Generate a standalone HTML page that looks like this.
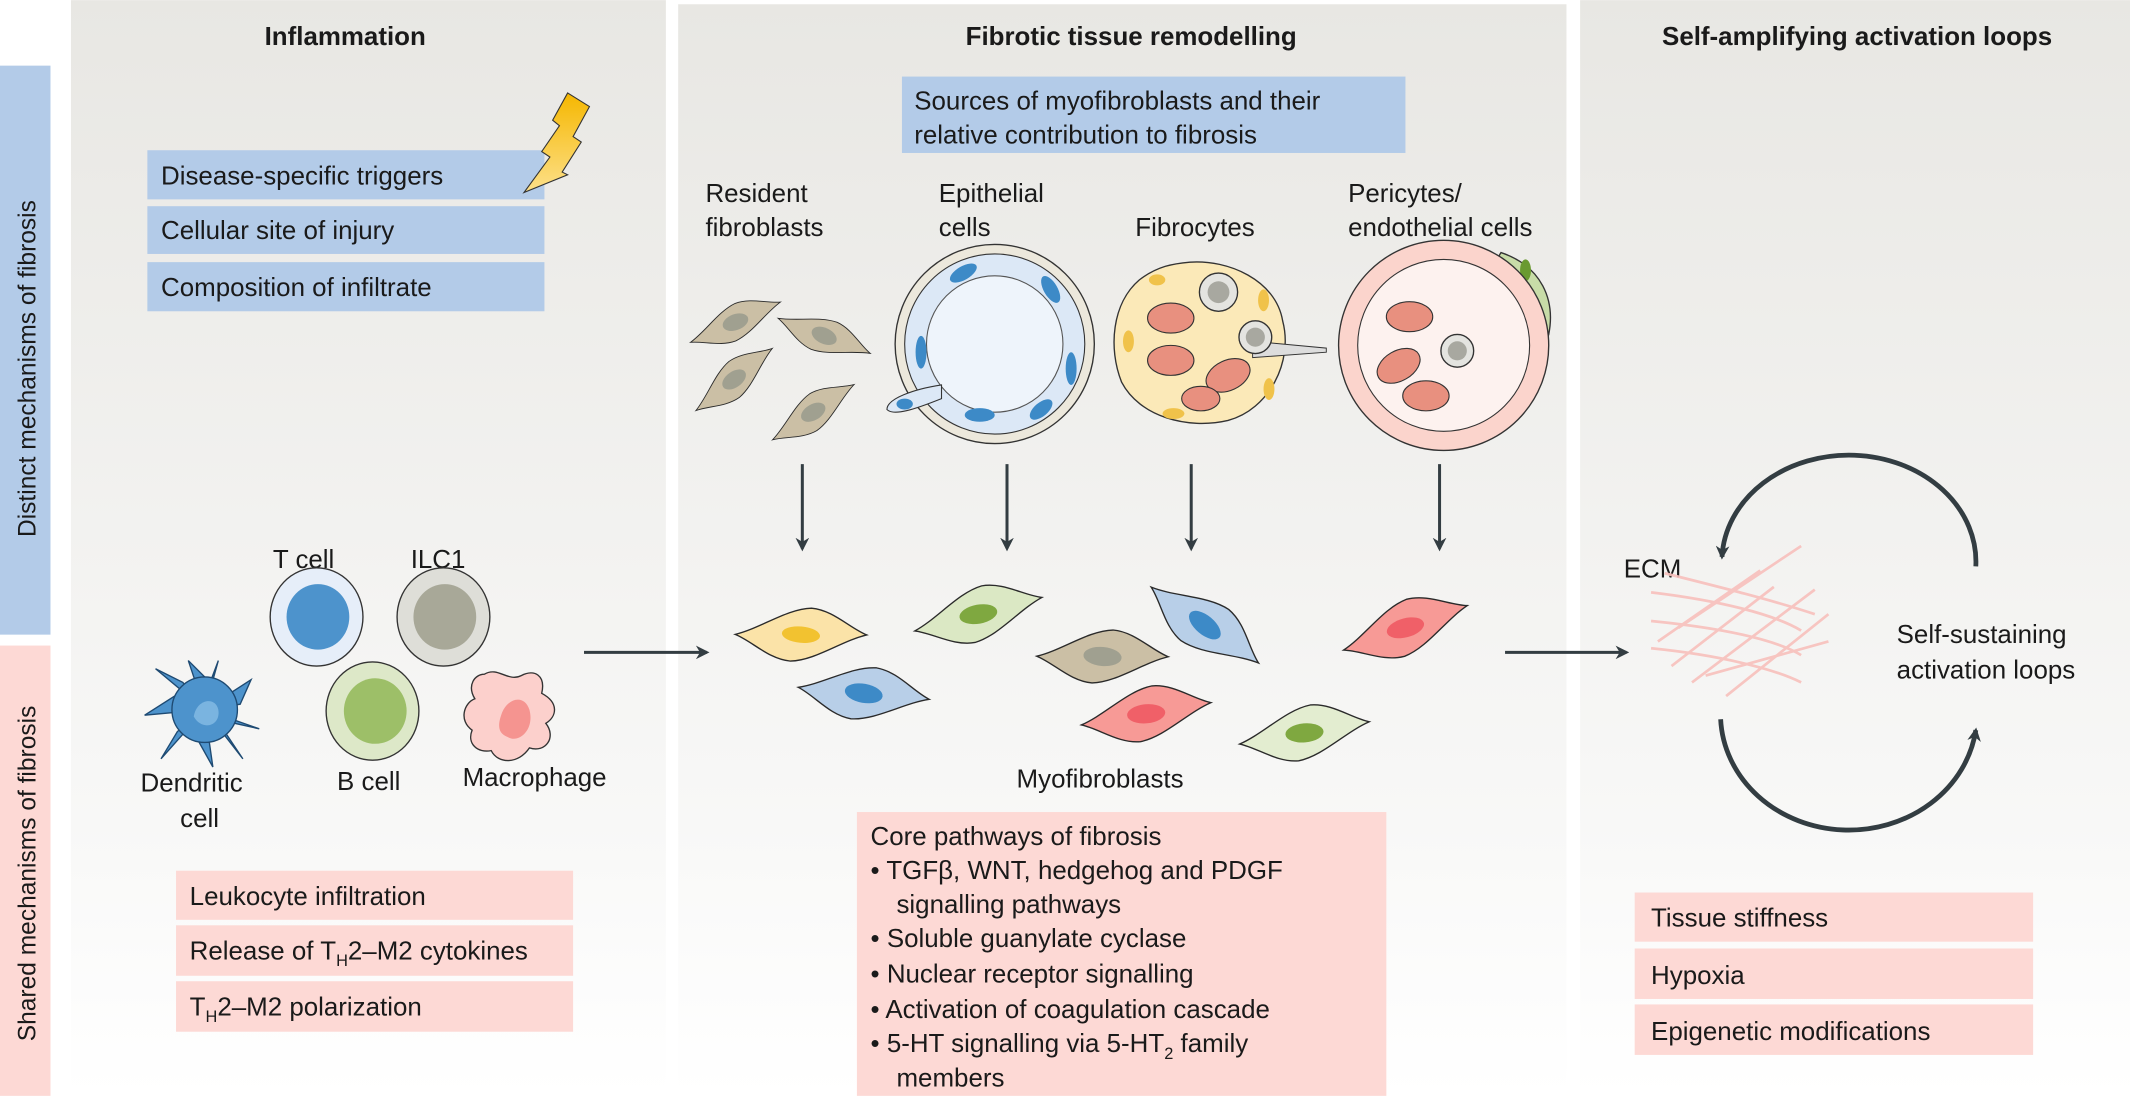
<!DOCTYPE html>
<html><head><meta charset="utf-8"><style>html,body{margin:0;padding:0;background:#fff;}svg{display:block;}text{font-family:"Liberation Sans",sans-serif;fill:#1a1a1a;}</style></head><body>
<svg width="2130" height="1096" viewBox="0 0 1561 803" xmlns="http://www.w3.org/2000/svg">
<defs>
<linearGradient id="pg" x1="0" y1="0" x2="0" y2="1"><stop offset="0" stop-color="#e8e7e3"/><stop offset="0.75" stop-color="#f8f8f7"/><stop offset="1" stop-color="#ffffff"/></linearGradient>
<linearGradient id="bolt" x1="0" y1="0" x2="0" y2="1"><stop offset="0" stop-color="#f5b700"/><stop offset="1" stop-color="#fde08a"/></linearGradient>
<marker id="ah" markerWidth="10" markerHeight="10" refX="8" refY="5" orient="auto" markerUnits="userSpaceOnUse"><path d="M0,0 L10,5 L0,10 L3,5Z" fill="#333d42"/></marker>
<path id="sp" d="M-48,4 C-30,-2 -12,-18 6,-20 C22,-20 35,-8 48,-4 C30,2 12,18 -6,20 C-22,20 -35,8 -48,4Z" stroke="#2a2a2a" stroke-width="1"/>
</defs>
<rect width="1561" height="803" fill="#fff"/>
<rect x="0" y="48" width="37" height="417" fill="#b3cbe8"/>
<rect x="0" y="473" width="37" height="330" fill="#fdd9d5"/>
<text transform="translate(26,270) rotate(-90)" text-anchor="middle" font-size="18">Distinct mechanisms of fibrosis</text>
<text transform="translate(26,640) rotate(-90)" text-anchor="middle" font-size="18">Shared mechanisms of fibrosis</text>
<rect x="52" y="0" width="436" height="803" fill="url(#pg)"/>
<rect x="497" y="3" width="651" height="800" fill="url(#pg)"/>
<rect x="1158" y="0" width="403" height="803" fill="url(#pg)"/>
<text x="253" y="33" text-anchor="middle" font-size="19" font-weight="bold">Inflammation</text>
<text x="829" y="33" text-anchor="middle" font-size="19" font-weight="bold">Fibrotic tissue remodelling</text>
<text x="1361" y="33" text-anchor="middle" font-size="19" font-weight="bold">Self-amplifying activation loops</text>
<g font-size="19">
<rect x="108" y="110" width="291" height="36" fill="#b3cbe8"/><text x="118" y="135">Disease-specific triggers</text>
<rect x="108" y="151" width="291" height="35" fill="#b3cbe8"/><text x="118" y="175">Cellular site of injury</text>
<rect x="108" y="192" width="291" height="36" fill="#b3cbe8"/><text x="118" y="217">Composition of infiltrate</text>
<rect x="661" y="56" width="369" height="56" fill="#b3cbe8"/><text x="670" y="80">Sources of myofibroblasts and their</text><text x="670" y="105">relative contribution to fibrosis</text>
</g>
<path d="M416,68 L432,78 L420,100 L426,104 L412,126 L416,128 L384,141 L403,115 L397,111 L410,92 L405,88Z" fill="url(#bolt)" stroke="#333" stroke-width="0.8"/>
<g font-size="19">
<text x="517" y="148">Resident</text><text x="517" y="173">fibroblasts</text>
<text x="688" y="148">Epithelial</text><text x="688" y="173">cells</text>
<text x="832" y="173">Fibrocytes</text>
<text x="988" y="148">Pericytes/</text><text x="988" y="173">endothelial cells</text>
</g>
<g fill="#cbbfa5">
<g transform="translate(539,236) rotate(-20) scale(0.75,0.65)"><use href="#sp"/><ellipse rx="13" ry="9" fill="#a0a090"/></g>
<g transform="translate(604,246) rotate(25) scale(0.75,0.65)"><use href="#sp"/><ellipse rx="13" ry="9" fill="#a0a090"/></g>
<g transform="translate(538,278) rotate(-35) scale(0.75,0.65)"><use href="#sp"/><ellipse rx="13" ry="9" fill="#a0a090"/></g>
<g transform="translate(596,302) rotate(-30) scale(0.75,0.65)"><use href="#sp"/><ellipse rx="13" ry="9" fill="#a0a090"/></g>
</g>
<circle cx="729" cy="252" r="73" fill="#ece8dc" stroke="#333" stroke-width="1"/>
<circle cx="729" cy="252" r="66" fill="#dce8f6" stroke="#333" stroke-width="0.8"/>
<circle cx="729" cy="252" r="50" fill="#eef4fb" stroke="#555" stroke-width="0.8"/>
<g fill="#3d8ac7">
<ellipse cx="706" cy="200" rx="11" ry="5" transform="rotate(-30 706 200)"/><ellipse cx="770" cy="212" rx="11" ry="5" transform="rotate(60 770 212)"/>
<ellipse cx="675" cy="258" rx="4" ry="12"/><ellipse cx="785" cy="270" rx="4" ry="12"/>
<ellipse cx="718" cy="304" rx="11" ry="5"/><ellipse cx="763" cy="300" rx="10" ry="5" transform="rotate(-40 763 300)"/>
</g>
<path d="M690,282 C670,285 650,292 650,300 C655,305 670,300 690,292Z" fill="#dce8f6" stroke="#333" stroke-width="0.8"/>
<ellipse cx="663" cy="296" rx="6" ry="4" fill="#3d8ac7"/>
<path d="M872,192 C900,190 935,205 940,235 C948,265 930,300 900,308 C870,315 835,305 822,280 C812,255 815,222 835,205 C848,195 860,193 872,192Z" fill="#fbe9b8" stroke="#333" stroke-width="1"/>
<g fill="#f0c24a"><ellipse cx="926" cy="220" rx="4" ry="8"/><ellipse cx="827" cy="250" rx="4" ry="8"/><ellipse cx="860" cy="303" rx="8" ry="4"/><ellipse cx="930" cy="285" rx="4" ry="8"/><ellipse cx="848" cy="205" rx="6" ry="4"/></g>
<g fill="#e8907f" stroke="#333" stroke-width="0.8">
<ellipse cx="858" cy="233" rx="17" ry="11"/><ellipse cx="858" cy="264" rx="17" ry="11"/><ellipse cx="900" cy="275" rx="17" ry="11" transform="rotate(-25 900 275)"/><ellipse cx="880" cy="292" rx="14" ry="9"/>
</g>
<circle cx="893" cy="214" r="14" fill="#e4e4e0" stroke="#333"/><circle cx="893" cy="214" r="8" fill="#a8a8a0"/>
<path d="M918,250 L972,255 L972,258 L918,262Z" fill="#ddd" stroke="#333" stroke-width="0.7"/>
<circle cx="920" cy="247" r="12" fill="#e4e4e0" stroke="#333"/><circle cx="920" cy="247" r="7" fill="#a8a8a0"/>
<path d="M1100,185 C1130,195 1140,220 1135,245 C1130,265 1115,255 1110,240 C1105,215 1090,200 1100,185Z" fill="#c8dca8" stroke="#333"/>
<ellipse cx="1118" cy="198" rx="4" ry="8" fill="#6a9a30"/>
<circle cx="1058" cy="253" r="77" fill="#fbd4cc" stroke="#333"/>
<circle cx="1058" cy="253" r="63" fill="#fdf2ef" stroke="#333" stroke-width="0.8"/>
<g fill="#e8907f" stroke="#333" stroke-width="0.8">
<ellipse cx="1033" cy="232" rx="17" ry="11"/><ellipse cx="1025" cy="268" rx="17" ry="11" transform="rotate(-30 1025 268)"/><ellipse cx="1045" cy="290" rx="17" ry="11"/>
</g>
<circle cx="1068" cy="257" r="12" fill="#e4e4e0" stroke="#333"/><circle cx="1068" cy="257" r="7" fill="#a8a8a0"/>
<g stroke="#333d42" stroke-width="2.2" marker-end="url(#ah)">
<line x1="588" y1="340" x2="588" y2="402"/><line x1="738" y1="340" x2="738" y2="402"/><line x1="873" y1="340" x2="873" y2="402"/><line x1="1055" y1="340" x2="1055" y2="402"/>
<line x1="428" y1="478" x2="518" y2="478"/><line x1="1103" y1="478" x2="1192" y2="478"/>
</g>
<g transform="translate(587,465) rotate(5)"><use href="#sp" fill="#fbe3a8"/><ellipse rx="14" ry="6" fill="#f2c230"/></g>
<g transform="translate(633,508) rotate(10)"><use href="#sp" fill="#b8cfe8"/><ellipse rx="14" ry="7" fill="#3d8ac7"/></g>
<g transform="translate(717,450) rotate(-10)"><use href="#sp" fill="#dbe8c4"/><ellipse rx="14" ry="7" fill="#7fa840"/></g>
<g transform="translate(808,481) rotate(5)"><use href="#sp" fill="#cbbfa5"/><ellipse rx="14" ry="7" fill="#a0a090"/></g>
<g transform="translate(883,458) rotate(40)"><use href="#sp" fill="#b8cfe8"/><ellipse rx="14" ry="7" fill="#3d8ac7"/></g>
<g transform="translate(840,523) rotate(-5)"><use href="#sp" fill="#f79a96"/><ellipse rx="14" ry="7" fill="#f06068"/></g>
<g transform="translate(1030,460) rotate(-15)"><use href="#sp" fill="#f79a96"/><ellipse rx="14" ry="7" fill="#f06068"/></g>
<g transform="translate(956,537) rotate(-5)"><use href="#sp" fill="#e3edd0"/><ellipse rx="14" ry="7" fill="#7fa840"/></g>
<text x="745" y="577" font-size="19">Myofibroblasts</text>
<g font-size="19">
<text x="200" y="416">T cell</text><text x="301" y="416">ILC1</text>
<text x="103" y="580">Dendritic</text><text x="132" y="606">cell</text>
<text x="247" y="579">B cell</text><text x="339" y="576">Macrophage</text>
</g>
<ellipse cx="232" cy="452" rx="34" ry="36" fill="#e6eef9" stroke="#333"/><ellipse cx="233" cy="452" rx="23" ry="24" fill="#4d93cc"/>
<ellipse cx="325" cy="452" rx="34" ry="36" fill="#deded8" stroke="#333"/><ellipse cx="326" cy="452" rx="23" ry="24" fill="#a8a898"/>
<ellipse cx="273" cy="521" rx="34" ry="36" fill="#dde8c8" stroke="#333"/><ellipse cx="275" cy="521" rx="23" ry="24" fill="#9dbf68"/>
<path d="M355,494 C365,488 372,500 382,495 C392,490 400,495 397,508 C410,515 408,525 400,530 C408,540 400,552 388,548 C380,560 365,560 360,550 C350,552 342,545 346,535 C336,528 340,515 348,512 C342,502 348,494 355,494Z" fill="#fcd0cc" stroke="#333"/>
<path d="M368,522 C372,512 384,508 388,520 C392,535 380,545 372,540 C364,537 365,530 368,522Z" fill="#f59490"/>
<g fill="#4d93cc" stroke="#1e4a72" stroke-width="1">
<path d="M150,520 L138,484 L154,500 L160,484 Z M150,520 L184,498 L176,516 Z M150,520 L190,534 L172,530 Z M150,520 L156,562 L146,544 Z M150,520 L118,556 L130,536 Z M150,520 L106,524 L128,510 Z M150,520 L114,490 L134,500 Z M150,520 L178,556 L166,538 Z"/>
<circle cx="150" cy="520" r="24"/>
</g>
<path d="M142,525 C144,512 158,510 160,520 C162,532 148,536 142,525Z" fill="#7ab4e0"/>
<g font-size="19">
<rect x="129" y="638" width="291" height="36" fill="#fdd9d5"/><text x="139" y="663">Leukocyte infiltration</text>
<rect x="129" y="678" width="291" height="37" fill="#fdd9d5"/><text x="139" y="703">Release of T<tspan font-size="12" dy="5">H</tspan><tspan dy="-5">2–M2 cytokines</tspan></text>
<rect x="129" y="719" width="291" height="37" fill="#fdd9d5"/><text x="139" y="744">T<tspan font-size="12" dy="5">H</tspan><tspan dy="-5">2–M2 polarization</tspan></text>
<rect x="1198" y="654" width="292" height="36" fill="#fdd9d5"/><text x="1210" y="679">Tissue stiffness</text>
<rect x="1198" y="695" width="292" height="37" fill="#fdd9d5"/><text x="1210" y="721">Hypoxia</text>
<rect x="1198" y="736" width="292" height="37" fill="#fdd9d5"/><text x="1210" y="762">Epigenetic modifications</text>
<rect x="628" y="595" width="388" height="208" fill="#fdd9d5"/>
<text x="638" y="619">Core pathways of fibrosis</text>
<text x="638" y="644">• TGFβ, WNT, hedgehog and PDGF</text>
<text x="657" y="669">signalling pathways</text>
<text x="638" y="694">• Soluble guanylate cyclase</text>
<text x="638" y="720">• Nuclear receptor signalling</text>
<text x="638" y="746">• Activation of coagulation cascade</text>
<text x="638" y="771">• 5-HT signalling via 5-HT<tspan font-size="12" dy="5">2</tspan><tspan dy="-5"> family</tspan></text>
<text x="657" y="796">members</text>
<text x="1190" y="423">ECM</text>
<text x="1390" y="471">Self-sustaining</text><text x="1390" y="497">activation loops</text>
</g>
<g stroke="#f8c0bc" stroke-width="2" fill="none" opacity="0.9">
<path d="M1210,434 C1260,440 1300,450 1320,462"/><path d="M1210,455 C1260,460 1300,468 1320,480"/><path d="M1210,475 C1260,480 1300,490 1320,500"/><path d="M1220,420 C1260,430 1300,440 1330,450"/>
<path d="M1225,488 L1300,430"/><path d="M1240,500 L1330,432"/><path d="M1265,510 L1340,450"/><path d="M1215,470 L1290,418"/><path d="M1230,460 L1320,400"/><path d="M1250,495 L1340,470"/>
</g>
<g stroke="#333d42" stroke-width="3.5" fill="none">
<path d="M1448,415 A93,78 0 0 0 1262,408" marker-end="url(#ah)"/>
<path d="M1261,527 A94,85 0 0 0 1448,535" marker-end="url(#ah)"/>
</g>
</svg>
</body></html>
